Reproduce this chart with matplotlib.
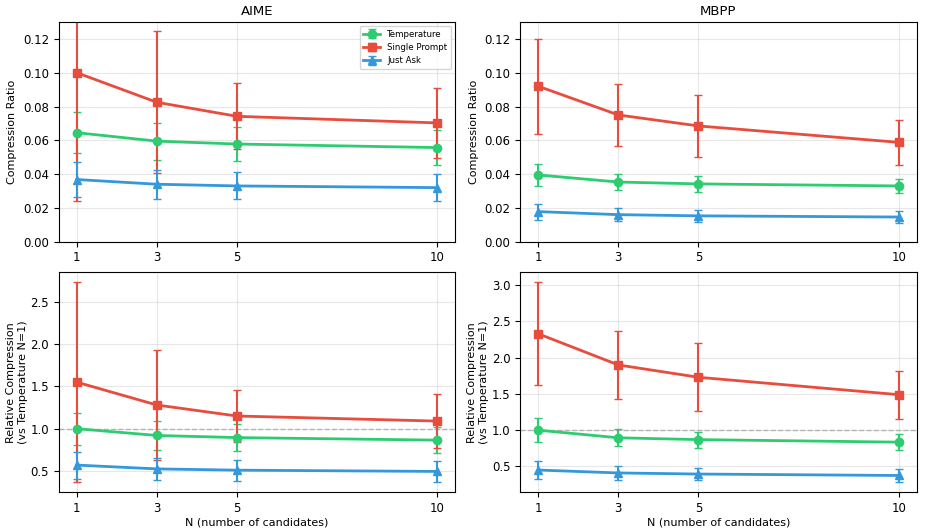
import matplotlib
matplotlib.use('Agg')
import matplotlib.pyplot as plt

plt.rcParams.update({'font.size': 8, 'xtick.labelsize': 8.5, 'ytick.labelsize': 8.5})

n_values = [1, 3, 5, 10]
methods = ['Temperature', 'Single Prompt', 'Just Ask']
colors = ['#2ecc71', '#e74c3c', '#3498db']
markers = ['o', 's', '^']

# absolute compression ratio (mean, std)
aime_mean = [[0.0645, 0.0595, 0.0578, 0.0557],
             [0.100, 0.0825, 0.0742, 0.0703],
             [0.0368, 0.0340, 0.0330, 0.0320]]
aime_std = [[0.0123, 0.0110, 0.0100, 0.0103],
            [0.0760, 0.0420, 0.0196, 0.0205],
            [0.0103, 0.0085, 0.0080, 0.0078]]
mbpp_mean = [[0.0395, 0.0353, 0.0342, 0.0330],
             [0.092, 0.075, 0.0685, 0.0588],
             [0.0178, 0.0160, 0.0153, 0.0146]]
mbpp_std = [[0.0065, 0.0046, 0.0045, 0.0043],
            [0.0280, 0.0186, 0.0185, 0.0133],
            [0.0047, 0.0037, 0.0034, 0.0034]]

# relative to Temperature N=1
aime_rel_mean = [[1.0, 0.92, 0.895, 0.865],
                 [1.55, 1.28, 1.15, 1.09],
                 [0.57, 0.525, 0.51, 0.495]]
aime_rel_std = [[0.19, 0.17, 0.16, 0.155],
                [1.18, 0.65, 0.305, 0.32],
                [0.16, 0.13, 0.125, 0.12]]
mbpp_rel_mean = [[1.0, 0.895, 0.87, 0.835],
                 [2.33, 1.90, 1.73, 1.49],
                 [0.45, 0.41, 0.395, 0.375]]
mbpp_rel_std = [[0.165, 0.115, 0.11, 0.115],
                [0.71, 0.47, 0.47, 0.33],
                [0.12, 0.095, 0.085, 0.09]]


def draw(ax, means, stds):
  for name, m, s, c, mk in zip(methods, means, stds, colors, markers):
    ax.errorbar(n_values, m, yerr=s, label=name, color=c, marker=mk,
                markersize=6, linewidth=2, capsize=3, elinewidth=1.5)
  ax.set_xticks(n_values)
  ax.grid(True, alpha=0.3)


fig, axes = plt.subplots(2, 2, figsize=(9.25, 5.32), dpi=100)

draw(axes[0, 0], aime_mean, aime_std)
axes[0, 0].set_title('AIME', fontsize=9.5, pad=5)
axes[0, 0].set_ylabel('Compression Ratio', labelpad=4)
axes[0, 0].set_ylim(0, 0.13)
axes[0, 0].legend(loc='upper right', fontsize=6.2)

draw(axes[0, 1], mbpp_mean, mbpp_std)
axes[0, 1].set_title('MBPP', fontsize=9.5, pad=5)
axes[0, 1].set_ylabel('Compression Ratio', labelpad=4)
axes[0, 1].set_ylim(0, 0.13)

for ax, m, s in [(axes[1, 0], aime_rel_mean, aime_rel_std),
                 (axes[1, 1], mbpp_rel_mean, mbpp_rel_std)]:
  draw(ax, m, s)
  ax.axhline(1.0, color='gray', linestyle='--', linewidth=1, alpha=0.5)
  ax.set_ylabel('Relative Compression\n(vs Temperature N=1)', labelpad=2)
  ax.set_xlabel('N (number of candidates)', labelpad=2)

plt.subplots_adjust(left=0.0635, right=0.991, top=0.9586, bottom=0.0752,
                    wspace=0.164, hspace=0.1395)

fig.savefig('out.png', dpi=100)
